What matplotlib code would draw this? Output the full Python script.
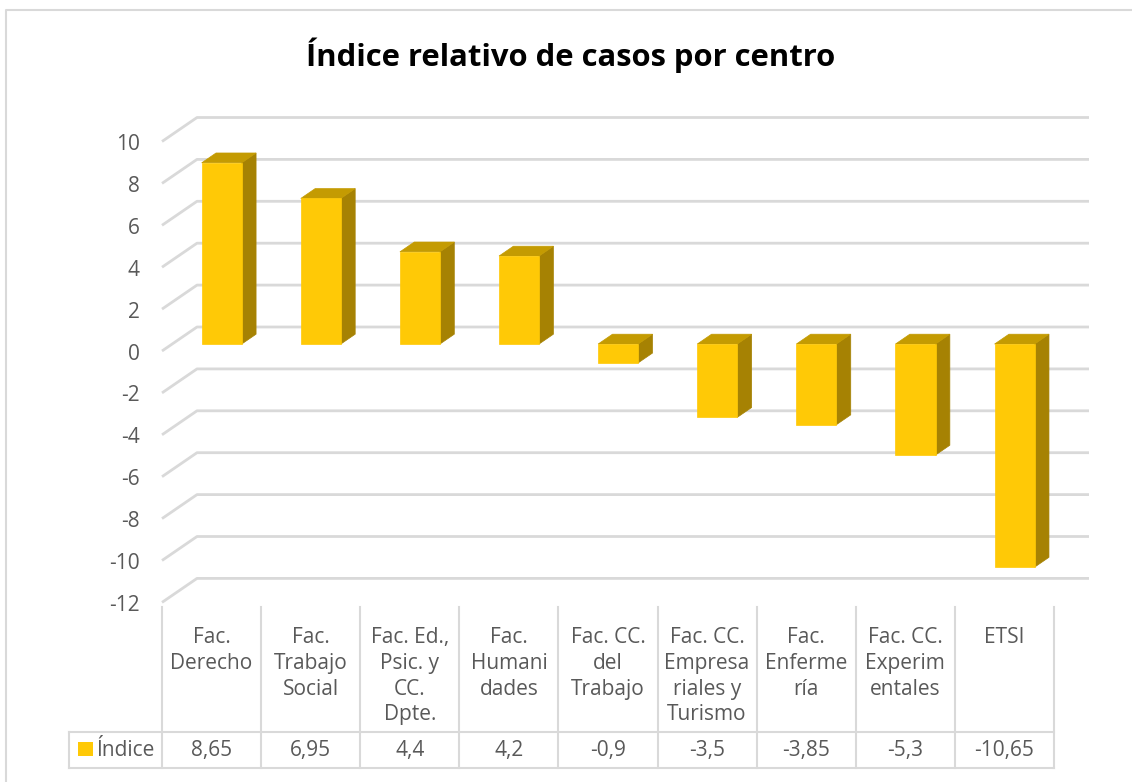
import matplotlib
matplotlib.use("Agg")
import matplotlib.pyplot as plt
from matplotlib.patches import Polygon, Rectangle
from matplotlib.lines import Line2D

# ---------------- data ----------------
categories = ["Fac.\nDerecho", "Fac.\nTrabajo\nSocial", "Fac. Ed.,\nPsic. y\nCC.\nDpte.",
              "Fac.\nHumani\ndades", "Fac. CC.\ndel\nTrabajo", "Fac. CC.\nEmpresa\nriales y\nTurismo",
              "Fac.\nEnferme\nría", "Fac. CC.\nExperim\nentales", "ETSI"]
values = [8.65, 6.95, 4.4, 4.2, -0.9, -3.5, -3.85, -5.3, -10.65]
value_labels = ["8,65", "6,95", "4,4", "4,2", "-0,9", "-3,5", "-3,85", "-5,3", "-10,65"]
series_name = "Índice"
y_ticks = [10, 8, 6, 4, 2, 0, -2, -4, -6, -8, -10, -12]
title = "Índice relativo de casos por centro"

# ---------------- style ----------------
W, H = 1132, 782
FONT = "Open Sans"
GRID = "#d9d9d9"
TXT = "#595959"
C_FRONT = "#FFC906"
C_TOP = "#C49B02"
C_SIDE = "#A68203"

fig = plt.figure(figsize=(W / 100, H / 100), dpi=100)
fig.patch.set_facecolor("white")

def fx(px):
    return px / W

def fy(py):
    return 1 - py / H

# outer chart border (cropped on right and bottom)
fig.add_artist(Line2D([fx(6), fx(6), fx(1132)], [fy(782), fy(10), fy(10)],
                      transform=fig.transFigure, color=GRID, lw=1.5))

# title
fig.text(fx(571), fy(55), title, ha="center", va="center", fontsize=22.3,
         fontweight="bold", family=FONT, color="black")

# ---------------- 3D-like plot area ----------------
n = len(categories)
px_per_cat = (1054 - 162) / n
px_per_unit = 20.95
zero_py = 351
ymin, ymax = -12, 10
top_py = zero_py - ymax * px_per_unit
bot_py = zero_py - ymin * px_per_unit

ax = fig.add_axes([fx(162), fy(bot_py), (1054 - 162) / W, (bot_py - top_py) / H])
ax.set_xlim(0, n)
ax.set_ylim(ymin, ymax)
ax.axis("off")

DX = 35 / px_per_cat      # depth offset in category units
DY = 24 / px_per_unit     # depth offset in value units

# gridlines: diagonal on side wall + horizontal on back wall
for v in y_ticks:
    ax.plot([0, DX, n + DX], [v, v + DY, v + DY], color=GRID, lw=2,
            solid_capstyle="butt", clip_on=False, zorder=1)
    ax.annotate(str(v), xy=(0, v), xytext=(-22, -3), textcoords="offset pixels",
                ha="right", va="center", fontsize=15, family=FONT, color=TXT,
                annotation_clip=False)

# bars
bw = 0.404
f0, f1 = 0.29, 0.70
for i, v in enumerate(values):
    x0 = i + 0.5 - bw / 2
    x1 = i + 0.5 + bw / 2
    lo, hi = min(v, 0), max(v, 0)
    ox0, oy0 = f0 * DX, f0 * DY
    ox1, oy1 = f1 * DX, f1 * DY
    # side face
    ax.add_patch(Polygon([(x1 + ox0, lo + oy0), (x1 + ox1, lo + oy1),
                          (x1 + ox1, hi + oy1), (x1 + ox0, hi + oy0)],
                         closed=True, facecolor=C_SIDE, edgecolor=C_SIDE, lw=0.5,
                         clip_on=False, zorder=3))
    # top face
    ax.add_patch(Polygon([(x0 + ox0, hi + oy0), (x1 + ox0, hi + oy0),
                          (x1 + ox1, hi + oy1), (x0 + ox1, hi + oy1)],
                         closed=True, facecolor=C_TOP, edgecolor=C_TOP, lw=0.5,
                         clip_on=False, zorder=3))
    # front face
    ax.add_patch(Rectangle((x0 + ox0, lo + oy0), bw, hi - lo,
                           facecolor=C_FRONT, edgecolor=C_FRONT, lw=0.5,
                           clip_on=False, zorder=4))

# ---------------- data table ----------------
tab_top, row_mid, tab_bot = 607, 732, 768
tx = fig.add_axes([fx(162), fy(tab_bot), (1054 - 162) / W, (tab_bot - tab_top) / H])
tx.set_xlim(0, n)
tx.set_ylim(tab_bot, tab_top)   # pixel-like rows, inverted
tx.axis("off")
left_x = (69 - 162) / px_per_cat

for i in range(n + 1):
    tx.plot([i, i], [tab_top, tab_bot], color=GRID, lw=1.5, clip_on=False)
tx.plot([left_x, n], [row_mid, row_mid], color=GRID, lw=1.5, clip_on=False)
tx.plot([left_x, n], [tab_bot, tab_bot], color=GRID, lw=1.5, clip_on=False)
tx.plot([left_x, left_x], [row_mid, tab_bot], color=GRID, lw=1.5, clip_on=False)

for i, (c, lab) in enumerate(zip(categories, value_labels)):
    tx.text(i + 0.5, 627, c, ha="center", va="top", fontsize=15, family=FONT,
            color=TXT, linespacing=1.3, clip_on=False)
    tx.text(i + 0.5, (row_mid + tab_bot) / 2 + 1, lab, ha="center", va="center",
            fontsize=15, family=FONT, color=TXT, clip_on=False)

# legend key in table
sq_x0 = (78 - 162) / px_per_cat
sq_w = 15 / px_per_cat
tx.add_patch(Rectangle((sq_x0, 742), sq_w, 14, facecolor=C_FRONT, edgecolor="none",
                       clip_on=False))
tx.text((96 - 162) / px_per_cat, (row_mid + tab_bot) / 2 + 1, series_name, ha="left",
        va="center", fontsize=15, family=FONT, color=TXT, clip_on=False)

fig.savefig("out.png", dpi=100, facecolor="white")
